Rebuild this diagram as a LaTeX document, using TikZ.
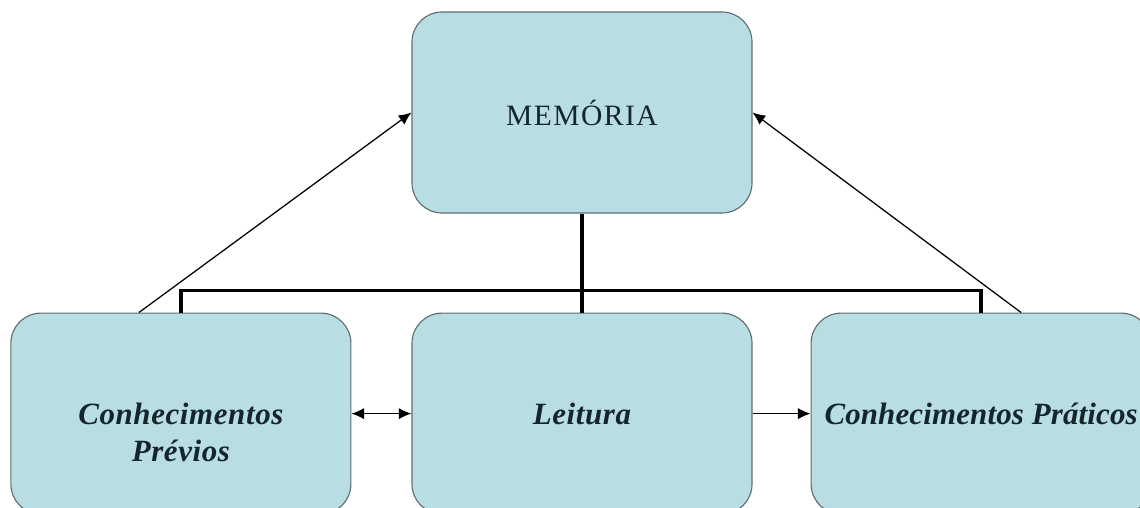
\documentclass[tikz,border=0pt]{standalone}
\usepackage{fontspec}
\setmainfont{Liberation Serif}
\usepackage{xcolor}
\usepackage{tikz}
\usetikzlibrary{shapes,arrows,arrows.meta,positioning}

\definecolor{boxfill}{HTML}{B8DEE4}
\definecolor{boxline}{HTML}{5E6E70}
\definecolor{boxtext}{HTML}{14262C}

\begin{document}
\begin{tikzpicture}[%
      block/.style={draw=boxline, fill=boxfill, rounded corners=0.75cm,
        minimum width=8.5cm, minimum height=5.025cm, align=center,
        text=boxtext, line width=0.8pt,
        font=\fontsize{22}{27}\selectfont\bfseries\itshape\addfontfeature{LetterSpace=2}},
      tree/.style={line width=2.4pt},
      link/.style={-{Latex[length=9pt,width=8pt]}, line width=0.9pt}]
      \useasboundingbox (0,0) rectangle (28.5,-12.675);
      \node[block, font=\fontsize{21}{24}\selectfont\addfontfeature{LetterSpace=5}]
        (memoria) at (14.55,-2.8125) {MEMÓRIA};
      \node[block, below=2.475cm of memoria] (leitura) {Leitura};
      \node[block, left=1.5cm of leitura] (previos)
        {\mbox{}\\[15pt]Conhecimentos\\Prévios};
      \node[block, right=1.45cm of leitura,
        font=\fontsize{22}{27}\selectfont\bfseries\itshape\addfontfeature{LetterSpace=0.5}]
        (praticos) {Conhecimentos Práticos};
      \coordinate[below=1.925cm of memoria.south] (bar);
      \draw[tree] (memoria.south) -- (leitura.north);
      \draw[tree] (previos.north) |- (bar) -| (praticos.north);
      \draw[link] ([xshift=-1.05cm]previos.north) -- (memoria.west);
      \draw[link] ([xshift=1cm]praticos.north) -- (memoria.east);
      \draw[link, {Latex[length=9pt,width=8pt]}-{Latex[length=9pt,width=8pt]}] (previos) -- (leitura);
      \draw[link] (leitura) -- (praticos);
    \end{tikzpicture}
\end{document}
